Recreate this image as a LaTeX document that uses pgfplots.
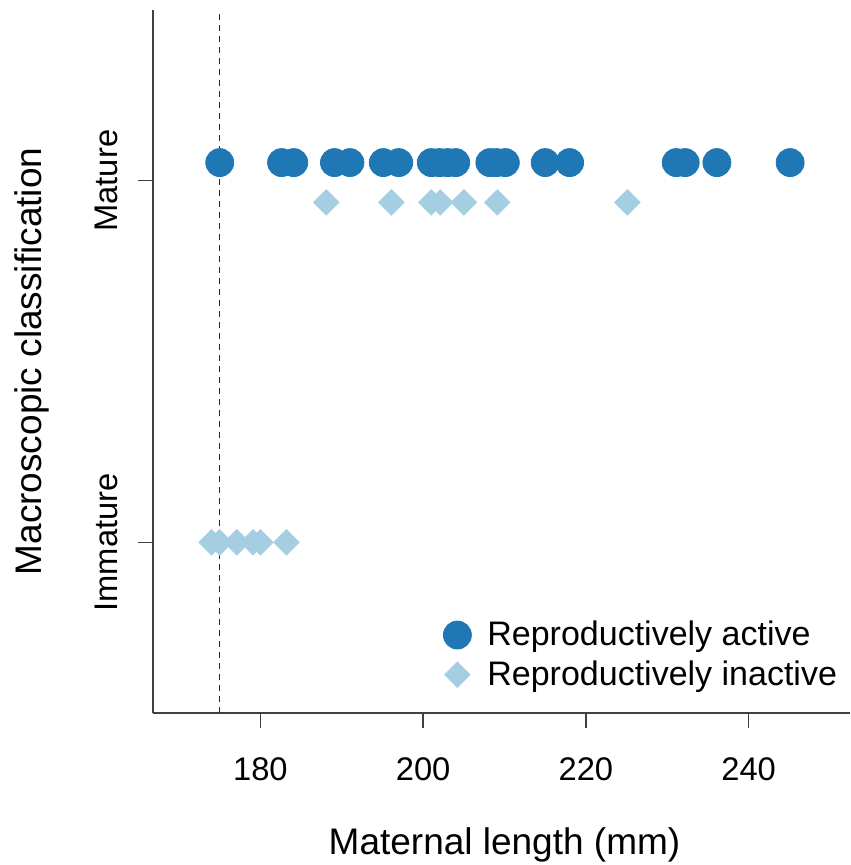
\documentclass[border=0pt]{standalone}
\usepackage{fontspec}
\setmainfont{Liberation Sans}
\usepackage{pgfplots}
\pgfplotsset{compat=1.18}
\definecolor{active}{HTML}{1F78B4}
\definecolor{inactive}{HTML}{A6CEE3}
\definecolor{spine}{gray}{0.25}

\begin{document}
\begin{tikzpicture}
\useasboundingbox (-76.5pt,-76pt) rectangle (348.5pt,356.5pt);
\begin{axis}[
  at={(0,0)}, anchor=south west,
  scale only axis, width=348.5pt, height=351.5pt,
  xmin=166.8, xmax=252.46, ymin=0.528, ymax=2.472,
  axis lines=left, axis line style={-, spine, line width=0.7pt},
  tick style={spine, line width=0.7pt}, tick align=outside, major tick length=7.5pt,
  xtick={180,200,220,240}, ytick={1,2}, yticklabels={Immature,Mature},
  /pgf/number format/assume math mode=true,
  ticklabel style={font=\fontsize{16.35}{19}\selectfont, inner sep=0pt},
  xticklabel style={anchor=base},
  yticklabel style={rotate=90, anchor=base},
  xticklabel shift=26.25pt, yticklabel shift=10pt,
  xlabel={Maternal length (mm)}, ylabel={Macroscopic classification},
  label style={font=\fontsize{18.5}{22}\selectfont, inner sep=0pt},
  xlabel style={at={([xshift=1.5pt,yshift=-70.75pt]axis description cs:0.5,0)}, anchor=base},
  ylabel style={at={([xshift=-55.5pt]axis description cs:0,0.5)}, anchor=base},
  legend style={draw=none, fill=none, at={(axis cs:201.7,0.805)}, anchor=north west,
    font=\fontsize{17}{20}\selectfont, row sep=2pt,
    /tikz/every odd column/.append style={column sep=6pt}},
  legend cell align=left,
  legend image code/.code={\draw[#1] plot coordinates {(0pt,0pt)};},
]
\addplot[only marks, mark=*, mark size=7pt, color=active, mark options={draw=none, fill=active}]
  coordinates {
  (175,2.05) (182.6,2.05) (184.1,2.05) (189.1,2.05) (191,2.05) (195.1,2.05) (197,2.05)
  (201,2.05) (202,2.05) (203,2.05) (204,2.05) (208.2,2.05) (209,2.05) (210.1,2.05)
  (215,2.05) (218,2.05) (231.1,2.05) (232.2,2.05) (236.1,2.05) (245.1,2.05)
  };
\addlegendentry{Reproductively active}
\addplot[only marks, mark=square*, mark size=4.5pt, color=inactive, mark options={rotate=45, draw=none, fill=inactive}]
  coordinates {
  (188.1,1.94) (196.1,1.94) (201,1.94) (202.1,1.94) (205,1.94) (209.1,1.94) (225.1,1.94)
  (174,1) (175,1) (177.1,1) (179.1,1) (180,1) (183.2,1)
  };
\addlegendentry{Reproductively inactive}
\addplot[forget plot, black!85, line width=0.6pt, dash pattern=on 3pt off 2.5pt]
  coordinates {(175,0.528) (175,2.472)};
\end{axis}
\end{tikzpicture}
\end{document}
